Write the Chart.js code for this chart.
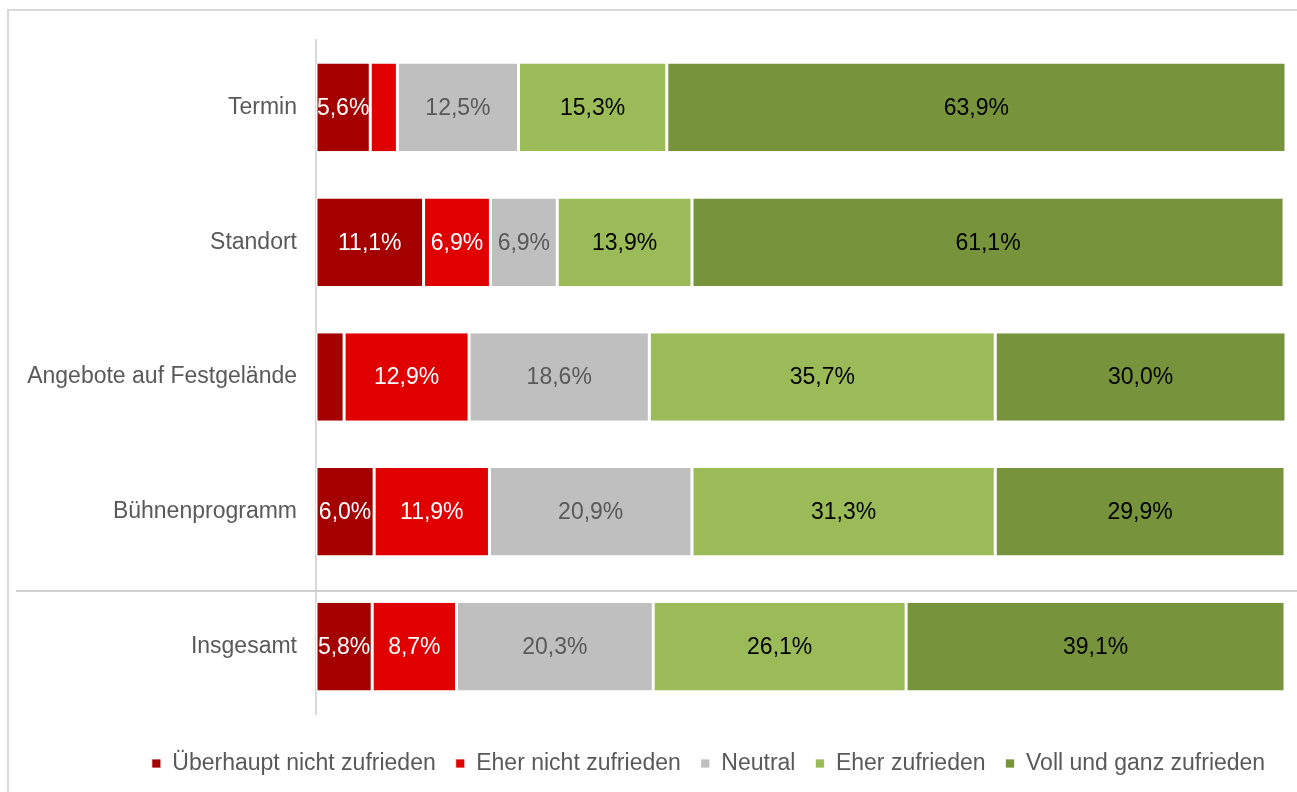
<!DOCTYPE html>
<html lang="de">
<head>
<meta charset="utf-8">
<title>Zufriedenheit</title>
<script src="https://cdn.jsdelivr.net/npm/chart.js@4/dist/chart.umd.min.js"></script>
<style>
  html, body { margin: 0; padding: 0; background: #fff; overflow: hidden; }
  .frame { position: absolute; left: 7px; top: 9px; width: 1400px; height: 900px; border: 2px solid #d9d9d9; box-sizing: border-box; }
  .wrap { position: absolute; left: 0; top: 0; width: 1297px; height: 792px; }
</style>
</head>
<body>
<div class="frame"></div>
<div class="wrap"><canvas id="chart"></canvas></div>
<script>
// Kategorien und Werte (Prozent)
const categories = ["Termin", "Standort", "Angebote auf Festgelände", "Bühnenprogramm", "Insgesamt"];
const seriesNames = ["Überhaupt nicht zufrieden", "Eher nicht zufrieden", "Neutral", "Eher zufrieden", "Voll und ganz zufrieden"];
const ueberhauptNicht = [5.6, 11.1, 2.9, 6.0, 5.8];
const eherNicht = [2.8, 6.9, 12.9, 11.9, 8.7];
const neutral = [12.5, 6.9, 18.6, 20.9, 20.3];
const eherZufrieden = [15.3, 13.9, 35.7, 31.3, 26.1];
const vollZufrieden = [63.9, 61.1, 30.0, 29.9, 39.1];

const colors = ["#a50000", "#e00000", "#bfbfbf", "#9bbb59", "#77933c"];
const labelColors = ["#ffffff", "#ffffff", "#595959", "#000000", "#000000"];
const FONT = "'Liberation Sans', Arial, sans-serif";

const series = [ueberhauptNicht, eherNicht, neutral, eherZufrieden, vollZufrieden];

// Prozentwerte in die Segmente schreiben (kleine Segmente ohne Label)
const valueLabels = {
  id: "valueLabels",
  afterDatasetsDraw(chart) {
    const ctx = chart.ctx;
    ctx.save();
    ctx.font = "23px " + FONT;
    ctx.textAlign = "center";
    ctx.textBaseline = "middle";
    chart.data.datasets.forEach((ds, i) => {
      chart.getDatasetMeta(i).data.forEach((bar, j) => {
        const v = ds.data[j];
        if (v < 5) return;
        ctx.fillStyle = labelColors[i];
        ctx.fillText(v.toFixed(1).replace(".", ",") + "%", (bar.x + bar.base) / 2, bar.y + 1);
      });
    });
    ctx.restore();
  }
};

// Trennlinie vor "Insgesamt"
const separator = {
  id: "separator",
  beforeDatasetsDraw(chart) {
    const ctx = chart.ctx;
    const y = Math.round(chart.scales.y.getPixelForValue(3.59));
    ctx.save();
    ctx.strokeStyle = "#d0d0d0";
    ctx.lineWidth = 2;
    ctx.beginPath();
    ctx.moveTo(16, y);
    ctx.lineTo(chart.width, y);
    ctx.stroke();
    ctx.restore();
  }
};

// Legende etwas verschieben
const legendShift = {
  id: "legendShift",
  afterLayout(chart) {
    const l = chart.legend;
    const dx = 66, dy = 18;
    l.left += dx; l.right += dx;
    l.top += dy; l.bottom += dy;
  }
};

new Chart(document.getElementById("chart"), {
  type: "bar",
  data: {
    labels: categories,
    datasets: series.map((data, i) => ({
      label: seriesNames[i],
      data: data,
      backgroundColor: colors[i],
      borderColor: "#ffffff",
      borderWidth: { top: 0, bottom: 0, left: 1.5, right: 1.5 },
      borderSkipped: false,
      barPercentage: 0.65,
      categoryPercentage: 1
    }))
  },
  options: {
    indexAxis: "y",
    responsive: true,
    maintainAspectRatio: false,
    animation: false,
    layout: { padding: { top: 40, right: 12, left: 0, bottom: 25 } },
    scales: {
      x: { stacked: true, min: 0, max: 100, display: false },
      y: {
        stacked: true,
        grid: { display: false },
        border: { display: true, color: "#d9d9d9", width: 2 },
        ticks: { color: "#595959", font: { family: FONT, size: 23 }, padding: 11 },
        afterFit(scale) { scale.width = 316; }
      }
    },
    plugins: {
      legend: {
        position: "bottom",
        labels: {
          color: "#595959",
          font: { family: FONT, size: 23 },
          boxWidth: 9,
          boxHeight: 9,
          padding: 20
        }
      },
      tooltip: { enabled: false }
    }
  },
  plugins: [valueLabels, separator, legendShift]
});
</script>
</body>
</html>
